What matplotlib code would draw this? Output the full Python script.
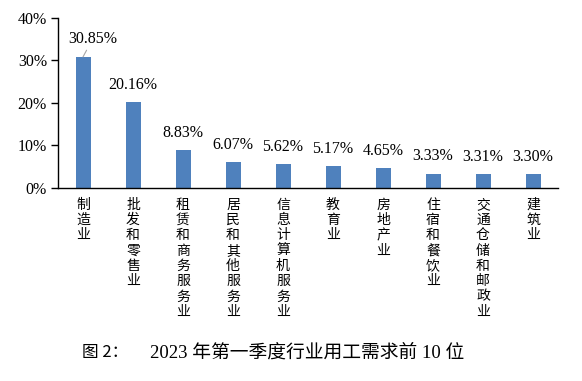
import matplotlib
matplotlib.use("Agg")
import matplotlib.pyplot as plt

# 数据
行业 = ["制造业", "批发和零售业", "租赁和商务服务业", "居民和其他服务业", "信息计算机服务业",
      "教育业", "房地产业", "住宿和餐饮业", "交通仓储和邮政业", "建筑业"]
占比 = [30.85, 20.16, 8.83, 6.07, 5.62, 5.17, 4.65, 3.33, 3.31, 3.30]
y_ticks = [0, 10, 20, 30, 40]

SERIF = ["Liberation Serif", "Noto Sans CJK SC"]
CJK = ["Noto Sans CJK SC", "DejaVu Sans"]
BLUE = "#4F81BD"

fig = plt.figure(figsize=(5.82, 3.81), dpi=100)
W, H = 582, 381
ax = fig.add_axes([58 / W, 1 - 188 / H, 500 / W, 170 / H])

x = list(range(len(行业)))
ax.bar(x, 占比, width=0.3, color=BLUE)

ax.set_xlim(-0.5, len(行业) - 0.5)
ax.set_ylim(0, 40)
ax.set_yticks(y_ticks)
ax.set_yticklabels([f"{v}%" for v in y_ticks], family=SERIF, fontsize=11.5)
ax.tick_params(axis="y", direction="out", length=5, width=1, pad=3)
ax.set_xticks([])

for s in ["top", "right"]:
    ax.spines[s].set_visible(False)
for s in ["left", "bottom"]:
    ax.spines[s].set_linewidth(1)
    ax.spines[s].set_color("black")

# 数据标签
for i, v in enumerate(占比):
    if i == 0:
        ax.annotate(f"{v:.2f}%", xy=(i, v), xytext=(7, 13), textcoords="offset points",
                    ha="center", va="center", family=SERIF, fontsize=11.5,
                    arrowprops=dict(arrowstyle="-", color="#A6A6A6", lw=0.8,
                                    shrinkA=0.5, shrinkB=0))
    else:
        ax.annotate(f"{v:.2f}%", xy=(i, v), xytext=(0, 12.5), textcoords="offset points",
                    ha="center", va="center", family=SERIF, fontsize=11.5)

# 竖排类别标签
for i, name in enumerate(行业):
    ax.annotate("\n".join(name), xy=(i, 0), xytext=(0, -7), textcoords="offset points",
                ha="center", va="top", family=CJK, fontsize=10, linespacing=1.12)

fig.text(82 / W, 1 - 353 / H, "图 2：", family=CJK, fontsize=12, va="center", ha="left")
fig.text(150 / W, 1 - 353 / H, "2023 年第一季度行业用工需求前 10 位",
         family=SERIF, fontsize=13.5, va="center", ha="left")

fig.savefig("out.png", dpi=100)
